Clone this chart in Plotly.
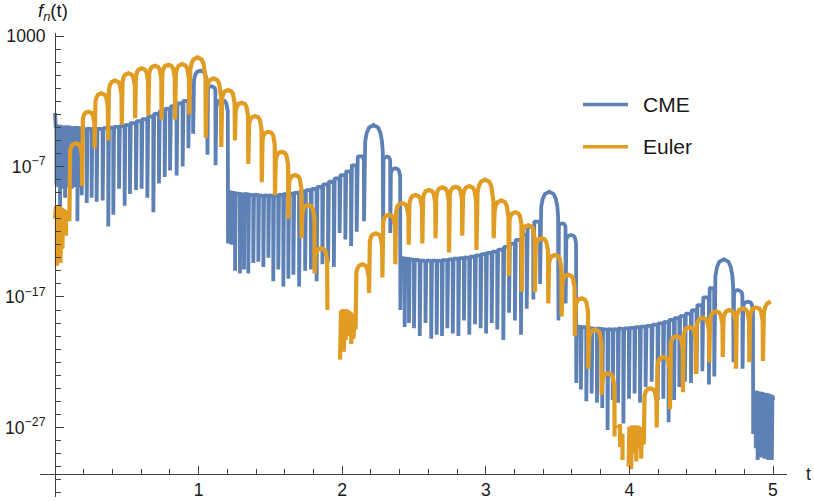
"""f_n(t) on a log scale: CME vs Euler inversion."""

import plotly.graph_objects as go

# --- values (log10 of f_n) --------------------------------------------------
# Each curve is a chain of arches: it falls to a dip at every *_ZERO_T and
# rises to the arch top between two dips. A top of None means no curve there.

CME_ZERO_T = [
    0.000, 0.010, 0.022, 0.035, 0.047, 0.058, 0.070, 0.082, 0.094, 0.105,
    0.116, 0.128, 0.142, 0.156, 0.170, 0.186, 0.221, 0.255, 0.290, 0.332,
    0.371, 0.406, 0.446, 0.485, 0.522, 0.564, 0.603, 0.643, 0.685, 0.724,
    0.764, 0.801, 0.847, 0.889, 0.929,
    0.962, 1.062, 1.118,
    1.205, 1.230, 1.254, 1.288, 1.316, 1.346, 1.381, 1.416, 1.451, 1.486,
    1.520, 1.555, 1.590, 1.625, 1.660, 1.700, 1.742, 1.782, 1.822, 1.862,
    1.902, 1.942, 1.982, 2.022, 2.062, 2.101, 2.152,
    2.285, 2.335,
    2.405, 2.435, 2.465, 2.500, 2.540, 2.580, 2.620, 2.658, 2.695, 2.732,
    2.770, 2.809, 2.848, 2.885, 2.925, 2.964, 3.002, 3.041, 3.080, 3.122,
    3.162, 3.203, 3.245, 3.285, 3.331,
    3.378, 3.506, 3.556,
    3.630, 3.662, 3.700, 3.737, 3.774, 3.811, 3.848, 3.884, 3.921, 3.958,
    3.997, 4.036, 4.074, 4.113, 4.155, 4.197, 4.236, 4.273, 4.311, 4.348,
    4.387, 4.429, 4.468, 4.508, 4.554, 4.591,
    4.725, 4.788,
    4.862, 4.880, 4.893, 4.905, 4.917, 4.930, 4.942, 4.955, 4.967, 4.980,
    4.992, 5.000,
]
CME_ZERO_LOGF = [
    -2.9, -8.4, -8.6, -10.1, -8.5, -8.7, -9.4, -8.5, -8.6, -8.5,
    -8.7, -8.5, -8.6, -11.2, -8.6, -9.2, -9.8, -9.4, -9.7, -9.6,
    -11.6, -10.7, -8.7, -10.0, -9.1, -8.8, -8.7, -9.4, -10.5, -8.3,
    -7.8, -7.3, -7.7, -7.0, -5.6,
    -4.5, -6.1, -6.9,
    -12.9, -13.0, -15.0, -15.2, -14.9, -15.2, -14.4, -14.3, -14.7, -14.0,
    -15.8, -14.9, -16.2, -15.6, -15.3, -16.2, -15.0, -14.9, -15.8, -14.5,
    -14.3, -14.7, -12.1, -12.6, -13.1, -12.0, -11.2,
    -11.6, -12.1,
    -18.0, -19.3, -19.0, -19.4, -20.0, -19.0, -20.2, -19.9, -20.0, -19.4,
    -19.8, -20.0, -18.8, -19.9, -19.1, -19.4, -19.8, -19.0, -19.5, -20.3,
    -18.2, -18.8, -19.9, -17.9, -17.2,
    -16.0, -18.8, -17.5,
    -23.6, -24.1, -25.0, -24.4, -25.1, -25.5, -27.2, -24.9, -25.1, -26.7,
    -24.8, -24.4, -25.1, -23.9, -23.5, -24.9, -24.8, -26.6, -24.9, -23.9,
    -23.5, -23.6, -22.85, -22.7, -23.7, -23.1,
    -22.0, -22.5,
    -27.5, -28.6, -29.5, -28.0, -29.3, -28.5, -29.4, -28.3, -29.5, -28.4,
    -29.5, -24.9,
]
CME_TOP_LOGF = [
    -3.9, -3.9, -3.95, -3.95, -4.0, -4.0, -4.0, -4.0, -4.0, -4.05,
    -4.05, -4.05, -4.05, -4.05, -4.1, -4.1, -4.1, -4.1, -4.1, -4.05,
    -4.0, -3.95, -3.9, -3.8, -3.65, -3.5, -3.35, -3.15, -2.95, -2.75,
    -2.55, -2.35, -2.15, -1.95,
    -1.6, 0.35, -0.85, -1.9,
    -8.95, -9.0, -9.05, -9.1, -9.1, -9.15, -9.15, -9.2, -9.2, -9.2,
    -9.2, -9.15, -9.1, -9.05, -9.0, -8.9, -8.8, -8.7, -8.55, -8.35,
    -8.15, -7.9, -7.65, -7.35, -6.9, -6.2,
    -3.82, -6.25, -7.14,
    -14.0, -14.05, -14.1, -14.15, -14.2, -14.2, -14.2, -14.2, -14.15, -14.1,
    -14.05, -14.0, -13.95, -13.9, -13.8, -13.7, -13.6, -13.5, -13.35, -13.15,
    -12.9, -12.6, -12.2, -11.6,
    -11.2, -8.93, -11.36, -12.25,
    -19.25, -19.3, -19.35, -19.4, -19.4, -19.45, -19.45, -19.45, -19.4, -19.4,
    -19.35, -19.3, -19.25, -19.2, -19.1, -19.0, -18.9, -18.75, -18.6, -18.45,
    -18.25, -18.0, -17.6, -17.0, -16.3,
    -14.1, -16.46, -17.36,
    -24.3, -24.3, -24.4, -24.4, -24.4, -24.5, -24.5, -24.5, -24.6, -24.6,
    -24.7,
]

EULER_ZERO_T = [
    0.000, 0.013, 0.025, 0.038, 0.051, 0.064, 0.076,
    0.100, 0.189, 0.276, 0.370, 0.465, 0.558, 0.650, 0.742, 0.836, 0.935,
    1.050, 1.158, 1.253, 1.346, 1.440, 1.532, 1.625, 1.717, 1.808, 1.897,
    1.985, 1.998, 2.011, 2.024, 2.037, 2.050, 2.063, 2.078,
    2.093, 2.187, 2.280, 2.370, 2.463, 2.558, 2.650, 2.744, 2.836, 2.935,
    3.055, 3.160, 3.250, 3.342, 3.435, 3.528, 3.620, 3.714, 3.806, 3.897,
    3.918, 3.935, 3.952, 3.995, 4.012, 4.030, 4.048, 4.066, 4.082,
    4.100, 4.190, 4.283, 4.373, 4.463, 4.556, 4.650, 4.742, 4.835, 4.930,
    5.040,
]
EULER_ZERO_LOGF = [
    -11.0, -14.6, -12.8, -14.4, -13.3, -12.0, -12.3,
    -11.2, -8.5, -5.6, -5.0, -3.8, -3.3, -3.1, -3.4, -3.4, -3.0,
    -4.8, -5.5, -5.0, -6.8, -8.2, -9.2, -11.0, -12.5, -15.2, -18.0,
    -21.8, -20.4, -21.2, -20.3, -20.0, -19.9, -20.6, -20.2,
    -19.5, -16.7, -15.5, -14.5, -13.0, -12.9, -12.5, -13.6, -12.3, -13.4,
    -12.5, -15.4, -16.6, -16.6, -17.5, -18.5, -20.0, -22.5, -24.5, -27.7,
    -26.8, -28.5, -29.5, -30.0, -30.2, -29.0, -29.6, -28.6, -29.4,
    -28.3, -27.0, -25.6, -24.3, -22.9, -22.0, -21.6, -22.5, -22.0, -21.9,
    -21.0,
]
EULER_TOP_LOGF = [
    -10.2, -10.3, -10.2, -10.3, -10.4, -10.5, None,
    -5.22, -2.80, -1.39, -0.42, 0.14, 0.52, 0.72, 0.80, 0.85, 1.37,
    -0.24, -1.14, -2.11, -3.13, -4.33, -5.87, -7.65, -9.95, -13.27, None,
    -18.2, -18.1, -18.1, -18.1, -18.2, -18.3, -18.5, -18.8,
    -14.5, -12.12, -10.7, -9.8, -9.18, -8.8, -8.6, -8.55, -8.5, -8.0,
    -9.6, -10.5, -11.5, -12.5, -13.78, -15.3, -17.1, -19.5, -22.85, None,
    -26.9, -27.6, None, -27.1, -27.0, -27.0, -27.0, -27.1, -27.3,
    -24.0, -21.6, -20.0, -19.3, -18.6, -18.1, -18.0, -17.87, -17.8, -17.36,
]

X_MAJOR = [1, 2, 3, 4, 5]
Y_MAJOR_EXP = [-27, -17, -7, 3]
Y_MAJOR_TEXT = ["10<sup>−27</sup>", "10<sup>−17</sup>", "10<sup>−7</sup>", "1000"]

# --- style ------------------------------------------------------------------
CME_COLOR = "#5E81B5"
EULER_COLOR = "#E19C24"
AXIS_COLOR = "#404040"
TEXT_COLOR = "#1a1a1a"
FONT = "Liberation Sans, Arial, sans-serif"

W, H = 814, 501
M_L, M_R, M_T, M_B = 40, 27, 33, 4
X_RANGE = [-0.1045, 5.0975]
Y_RANGE = [-32.33, 3.23]   # log10
X_AXIS_AT = -30.6          # log10 value where the t axis crosses
T_END = 5.0

# arch outline: fraction across the arch / drop below its top (share of dome depth)
ARCH_U = [0.02, 0.06, 0.14, 0.26, 0.5, 0.74, 0.86, 0.94, 0.98]
ARCH_DROP = [1.0, 0.62, 0.3, 0.1, 0.0, 0.1, 0.3, 0.62, 1.0]
DOME_K = 115.0  # dome depth in decades per (arch width)^2


def _arch_path(zero_t, zero_logf, top_logf):
    """dip / arch-top lists -> x, y for one line trace"""
    xs, ys = [], []
    for i, top in enumerate(top_logf):
        t0, t1 = zero_t[i], zero_t[i + 1]
        if top is None:
            xs.append(None)
            ys.append(None)
            continue
        if not xs or xs[-1] is None:
            xs.append(t0)
            ys.append(10 ** zero_logf[i])
        w = t1 - t0
        room = top - max(zero_logf[i], zero_logf[i + 1])
        depth = max(0.0, min(DOME_K * w * w, 0.8 * room))
        for u, d in zip(ARCH_U, ARCH_DROP):
            t = t0 + u * w
            if t > T_END:
                return xs, ys
            xs.append(t)
            ys.append(10 ** (top - d * depth))
        if t1 <= T_END:
            xs.append(t1)
            ys.append(10 ** zero_logf[i + 1])
    return xs, ys


def _paper(x_px, y_px):
    """pixel position in the picture -> paper coordinates"""
    return ((x_px - M_L) / (W - M_L - M_R), (H - M_B - y_px) / (H - M_T - M_B))


fig = go.Figure()

for name, color, width, zt, zl, tl in [
    ("CME", CME_COLOR, 3.8, CME_ZERO_T, CME_ZERO_LOGF, CME_TOP_LOGF),
    ("Euler", EULER_COLOR, 4.2, EULER_ZERO_T, EULER_ZERO_LOGF, EULER_TOP_LOGF),
]:
    xs, ys = _arch_path(zt, zl, tl)
    fig.add_trace(go.Scatter(
        x=xs, y=ys, mode="lines", name=name,
        line=dict(color=color, width=width),
        connectgaps=False, showlegend=False,
    ))

x_axis_pos = (X_AXIS_AT - Y_RANGE[0]) / (Y_RANGE[1] - Y_RANGE[0])
y_axis_pos = (0 - X_RANGE[0]) / (X_RANGE[1] - X_RANGE[0])

fig.update_layout(
    width=W, height=H,
    margin=dict(l=M_L, r=M_R, t=M_T, b=M_B, autoexpand=False),
    plot_bgcolor="white", paper_bgcolor="white",
    showlegend=False,
    font=dict(family=FONT, size=17.6, color=TEXT_COLOR),
    xaxis=dict(
        range=X_RANGE, anchor="free", position=x_axis_pos,
        showline=True, linecolor=AXIS_COLOR, linewidth=1,
        showgrid=False, zeroline=False,
        tickmode="array", tickvals=X_MAJOR, ticktext=[str(v) for v in X_MAJOR],
        ticks="inside", ticklen=8, tickwidth=1, tickcolor=AXIS_COLOR,
        ticklabelstandoff=-1,
        minor=dict(
            tickmode="array", tickvals=[k / 5 for k in range(1, 25) if k % 5],
            ticks="inside", ticklen=5, tickwidth=1, tickcolor=AXIS_COLOR,
            showgrid=False,
        ),
    ),
    yaxis=dict(
        type="log", range=Y_RANGE, anchor="free", position=y_axis_pos,
        showline=True, linecolor=AXIS_COLOR, linewidth=1,
        showgrid=False, zeroline=False,
        tickmode="array", tickvals=[10.0 ** e for e in Y_MAJOR_EXP],
        ticktext=Y_MAJOR_TEXT,
        ticks="inside", ticklen=8, tickwidth=1, tickcolor=AXIS_COLOR,
        ticklabelstandoff=6,
        minor=dict(
            tickmode="array", tickvals=[10.0 ** e for e in range(-32, 4)],
            ticks="inside", ticklen=4.5, tickwidth=1, tickcolor=AXIS_COLOR,
            showgrid=False,
        ),
    ),
)

# axis names placed like the reference (at the axis ends)
tx, ty = _paper(809, 474)
fig.add_annotation(x=tx, y=ty, xref="paper", yref="paper", text="t",
                   showarrow=False, xanchor="center", yanchor="middle")
fx, fy = _paper(36, 12)
fig.add_annotation(x=fx, y=fy, xref="paper", yref="paper",
                   text="<i>f</i><sub><i>n</i></sub>(t)",
                   showarrow=False, xanchor="left", yanchor="middle",
                   font=dict(size=18.5))

# legend drawn by hand: the line samples in the reference are longer than plotly's
for label, color, y_px in [("CME", CME_COLOR, 104.5), ("Euler", EULER_COLOR, 146.7)]:
    x0, ly = _paper(583, y_px)
    x1, _ = _paper(628, y_px)
    fig.add_shape(type="line", xref="paper", yref="paper",
                  x0=x0, x1=x1, y0=ly, y1=ly, line=dict(color=color, width=3.4))
    lx, _ = _paper(641, y_px)
    fig.add_annotation(x=lx, y=ly, xref="paper", yref="paper", text=label,
                       showarrow=False, xanchor="left", yanchor="middle",
                       font=dict(size=21))

# the page body has an 8px default margin; drop it so the figure sits at 0,0
fig.write_html(
    "out.html",
    config={"displayModeBar": False},
    post_script="document.body.style.margin='0';document.body.style.overflow='hidden';",
)
